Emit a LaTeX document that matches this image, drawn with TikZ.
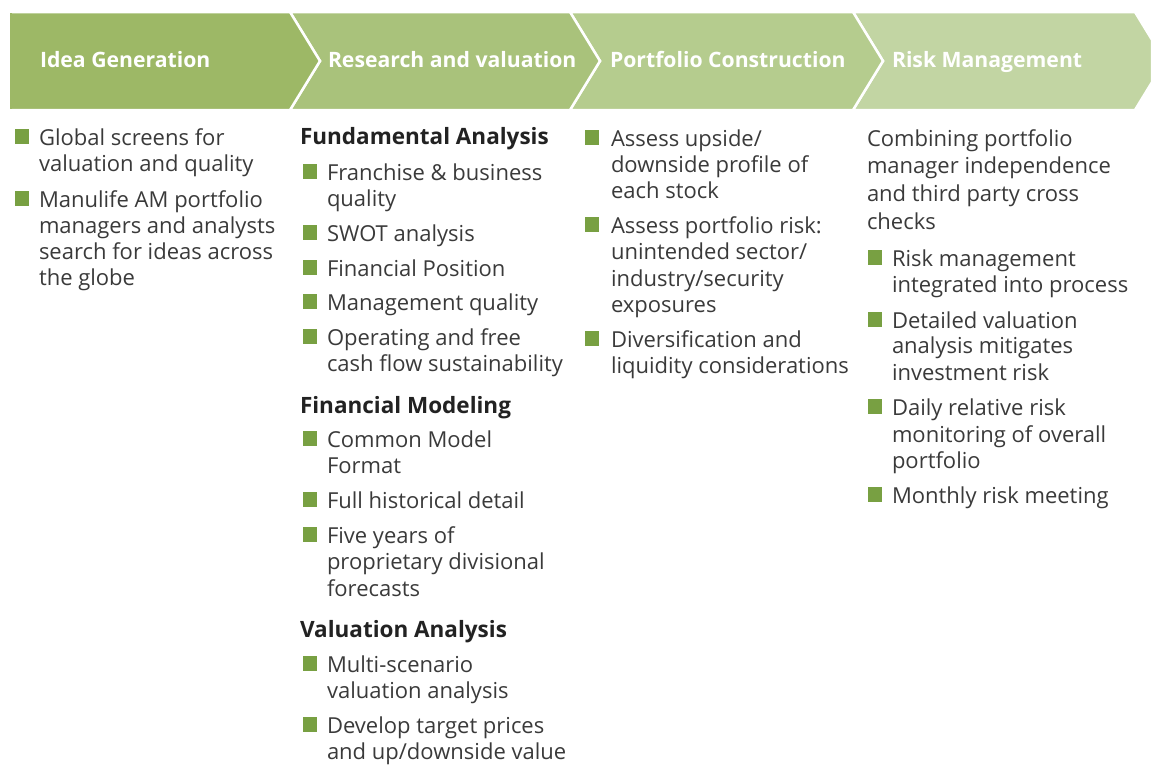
\documentclass[tikz,border=0pt]{standalone}
\usepackage{fontspec}
\setmainfont{Open Sans}
\definecolor{cA}{HTML}{9DB866}
\definecolor{cB}{HTML}{A9C27B}
\definecolor{cC}{HTML}{B5CC8E}
\definecolor{cD}{HTML}{C2D5A3}
\definecolor{txtgray}{HTML}{3A3A3A}
\definecolor{txtdark}{HTML}{222222}
\definecolor{bullet}{HTML}{78A042}
\newcommand\tline[4]{\node[txt] (#1) at (#2,#3) {#4};}
\newcommand\bsq[3]{\node[sq] (#1) at (#2,#3-8.5) {};}
\begin{document}
\begin{tikzpicture}[x=1pt,y=-1pt,
  txt/.style={anchor=base west, inner sep=0pt, outer sep=0pt, text=txtgray, font=\fontsize{22}{26}\selectfont},
  hd/.style={anchor=base west, inner sep=0pt, outer sep=0pt, text=txtdark, font=\bfseries\fontsize{22.5}{26}\selectfont},
  hdr/.style={anchor=base west, inner sep=0pt, outer sep=0pt, text=white, font=\bfseries\fontsize{21.2}{24}\selectfont},
  sq/.style={fill=bullet, minimum size=14.5pt, inner sep=0pt, outer sep=0pt, draw=none},
  chev/.style={draw=white, line width=2.5pt, line join=miter}
]
\useasboundingbox (0,0) rectangle (1152,764);
% header chevrons
\coordinate (k1) at (10,12);
\filldraw[chev, fill=cD] (853,12) -- (1135,12) -- (1152,39.8) -- (1152,82.2) -- (1135,110) -- (853,110) -- (883,61) -- cycle;
\filldraw[chev, fill=cC] (570,12) -- (853,12) -- (883,61) -- (853,110) -- (570,110) -- (600,61) -- cycle;
\filldraw[chev, fill=cB] (290,12) -- (570,12) -- (600,61) -- (570,110) -- (290,110) -- (320,61) -- cycle;
\filldraw[chev, fill=cA] (k1) -- (290,12) -- (320,61) -- (290,110) -- (10,110) -- cycle;
\fill[cA] (10,13.25) rectangle (11.5,108.75);
\node[hdr] (h1) at (40,67) {Idea Generation};
\node[hdr] (h2) at (328,67) {Research and valuation};
\node[hdr] (h3) at (610,67) {Portfolio Construction};
\node[hdr] (h4) at (892,67) {Risk Management};
% column 1
\bsq{b11}{22}{145}
\tline{a1}{39}{145}{Global screens for}
\tline{a2}{39}{171}{valuation and quality}
\bsq{b12}{22}{207}
\tline{a3}{39}{207}{Manulife AM portfolio}
\tline{a4}{39}{233}{managers and analysts}
\tline{a5}{39}{259}{search for ideas across}
\tline{a6}{39}{285}{the globe}
% column 2
\node[hd] (g1) at (300,144) {Fundamental Analysis};
\bsq{b21}{310}{180}
\tline{c1}{327}{180}{Franchise \& business}
\tline{c2}{327}{206}{quality}
\bsq{b22}{310}{241}
\tline{c3}{327}{241}{SWOT analysis}
\bsq{b23}{310}{276}
\tline{c4}{327}{276}{Financial Position}
\bsq{b24}{310}{310}
\tline{c5}{327}{310}{Management quality}
\bsq{b25}{310}{345}
\tline{c6}{327}{345}{Operating and free}
\tline{c7}{327}{371}{cash flow sustainability}
\node[hd] (g2) at (300,413) {Financial Modeling};
\bsq{b26}{310}{447}
\tline{c8}{327}{447}{Common Model}
\tline{c9}{327}{473}{Format}
\bsq{b27}{310}{508}
\tline{c10}{327}{508}{Full historical detail}
\bsq{b28}{310}{543}
\tline{c11}{327}{543}{Five years of}
\tline{c12}{327}{569}{proprietary divisional}
\tline{c13}{327}{596}{forecasts}
\node[hd] (g3) at (300,637) {Valuation Analysis};
\bsq{b29}{310}{672}
\tline{c14}{327}{672}{Multi-scenario}
\tline{c15}{327}{698}{valuation analysis}
\bsq{b2a}{310}{733}
\tline{c16}{327}{733}{Develop target prices}
\tline{c17}{327}{759}{and up/downside value}
% column 3
\bsq{b31}{592}{146}
\tline{d1}{611}{146}{Assess upside/}
\tline{d2}{611}{172}{downside profile of}
\tline{d3}{611}{198}{each stock}
\bsq{b32}{592}{233}
\tline{d4}{611}{233}{Assess portfolio risk:}
\tline{d5}{611}{259}{unintended sector/}
\tline{d6}{611}{286}{industry/security}
\tline{d7}{611}{312}{exposures}
\bsq{b33}{592}{347}
\tline{d8}{611}{347}{Diversification and}
\tline{d9}{611}{373}{liquidity considerations}
% column 4
\tline{e1}{867}{146}{Combining portfolio}
\tline{e2}{867}{173}{manager independence}
\tline{e3}{867}{201}{and third party cross}
\tline{e4}{867}{229}{checks}
\bsq{b41}{875}{266}
\tline{e5}{892}{266}{Risk management}
\tline{e6}{892}{292}{integrated into process}
\bsq{b42}{875}{328}
\tline{e7}{892}{328}{Detailed valuation}
\tline{e8}{892}{353}{analysis mitigates}
\tline{e9}{892}{380}{investment risk}
\bsq{b43}{875}{415}
\tline{e10}{892}{415}{Daily relative risk}
\tline{e11}{892}{442}{monitoring of overall}
\tline{e12}{892}{468}{portfolio}
\bsq{b44}{875}{503}
\tline{e13}{892}{503}{Monthly risk meeting}
\end{tikzpicture}
\end{document}
